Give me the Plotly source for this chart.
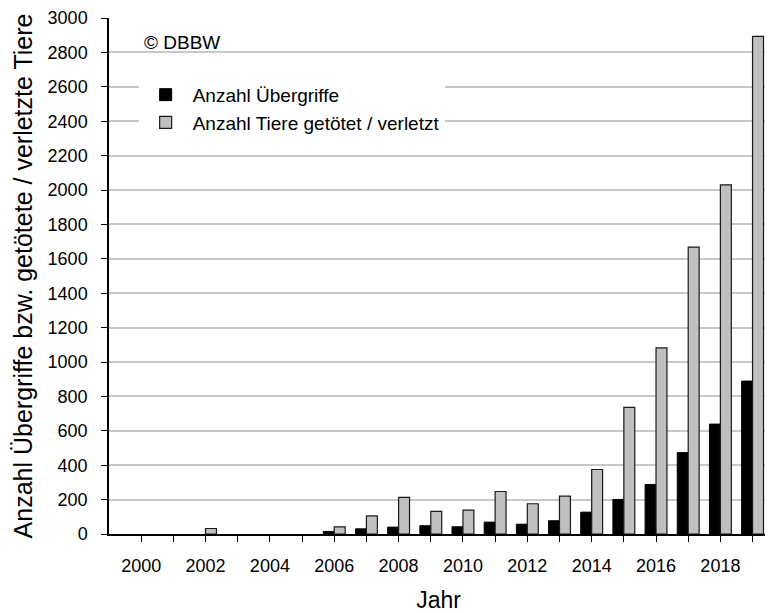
import plotly.graph_objects as go

years = list(range(2000, 2020))
# None = no recorded value for that year (no bar drawn)
uebergriffe = [None, None, None, None, None, None, 15, 30, 40, 48, 42, 69, 57, 77, 127, 201, 288, 473, 639, 889]
tiere = [None, None, 32, None, None, None, 42, 105, 213, 131, 139, 247, 176, 220, 375, 736, 1082, 1668, 2030, 2893]
tick_labels = [str(y) if y % 2 == 0 else "" for y in years]
y_ticks = list(range(0, 3001, 200))

font_family = "Liberation Sans, Arial, sans-serif"

fig = go.Figure()
fig.add_trace(go.Bar(
    x=years, y=uebergriffe, name="Anzahl Übergriffe",
    marker=dict(color="#000000", line=dict(color="#000000", width=1)),
))
fig.add_trace(go.Bar(
    x=years, y=tiere, name="Anzahl Tiere getötet / verletzt",
    marker=dict(color="#c0c0c0", line=dict(color="#1a1a1a", width=1.2)),
))

fig.update_layout(
    width=765, height=605,
    margin=dict(l=101, r=5, t=10, b=79, autoexpand=False),
    paper_bgcolor="white", plot_bgcolor="white",
    barmode="group", bargap=0.32, bargroupgap=0,
    font=dict(family=font_family, color="#000000", size=18),
    showlegend=True,
    legend=dict(
        x=0.045, y=0.888, xanchor="left", yanchor="top",
        bgcolor="white", borderwidth=0,
        font=dict(size=19, family=font_family),
        tracegroupgap=0, itemwidth=44,
    ),
    annotations=[dict(
        text="© DBBW", x=0.05, y=0.953, xref="paper", yref="paper",
        xanchor="left", yanchor="middle", showarrow=False,
        font=dict(size=19, family=font_family),
    )],
)
fig.update_xaxes(
    range=[1999, 2019.48],
    tickvals=years, ticktext=tick_labels,
    ticks="outside", ticklen=6, tickcolor="#000000", tickwidth=1.2,
    ticklabelstandoff=9,
    showline=True, linecolor="#000000", linewidth=1.5,
    showgrid=False, zeroline=False, automargin=False,
    tickfont=dict(size=18),
    title=dict(text="Jahr", font=dict(size=23), standoff=18),
)
fig.update_yaxes(
    range=[0, 3000],
    tickvals=y_ticks,
    ticks="outside", ticklen=6, tickcolor="#000000", tickwidth=1.2,
    ticklabelstandoff=10,
    showline=True, linecolor="#000000", linewidth=1.5,
    showgrid=True, gridcolor="#c8c8c8", gridwidth=1.6,
    zeroline=False, automargin=False,
    tickfont=dict(size=18),
    title=dict(text="Anzahl Übergriffe bzw. getötete / verletzte Tiere", font=dict(size=25), standoff=8),
)

fig.write_html("out.html")
